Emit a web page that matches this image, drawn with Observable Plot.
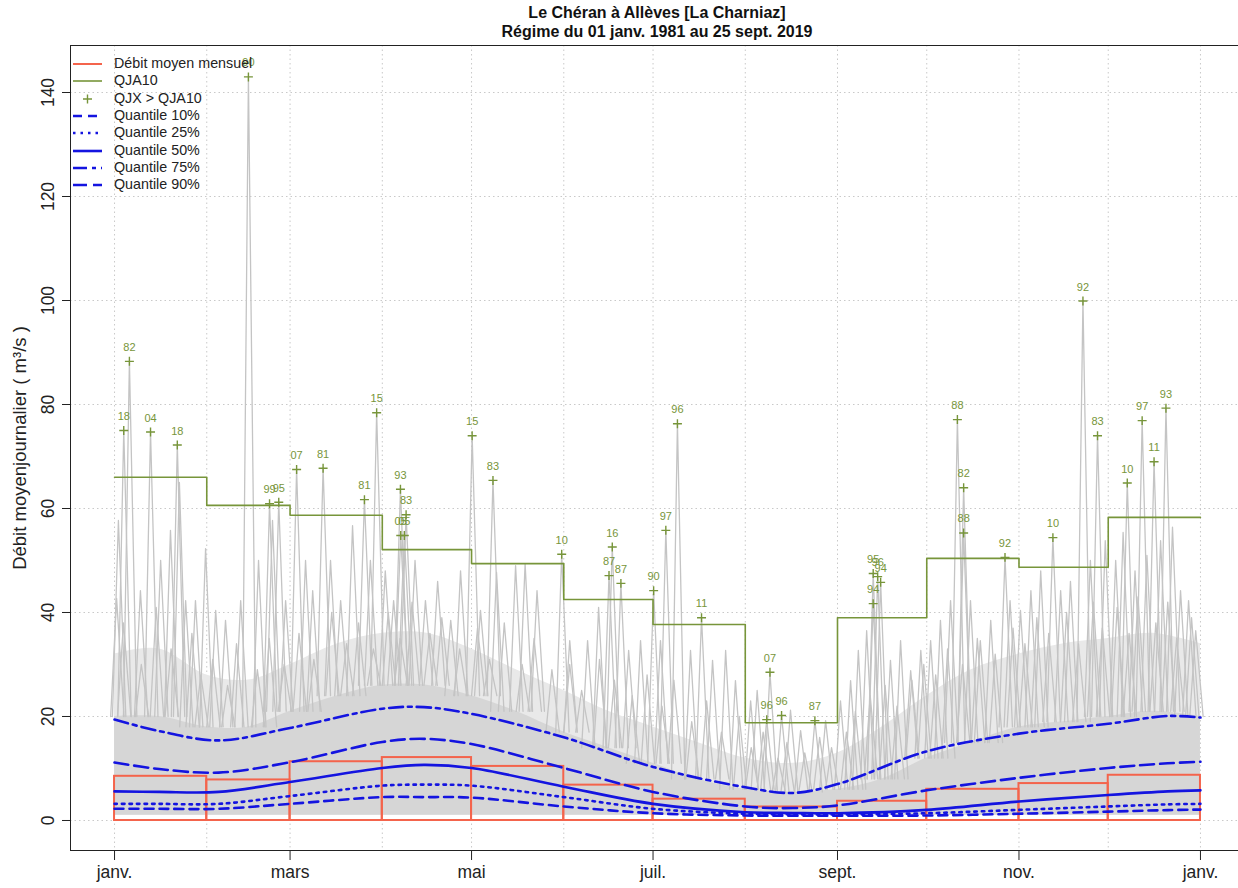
<!DOCTYPE html>
<html>
<head>
<meta charset="utf-8">
<script src="https://cdn.jsdelivr.net/npm/d3@7"></script>
<script src="https://cdn.jsdelivr.net/npm/@observablehq/plot@0.6"></script>
<style>
body{margin:0;background:#fff;font-family:"Liberation Sans",Arial,sans-serif;}
#wrap{position:relative;width:1238px;height:888px;overflow:hidden;}
#title{position:absolute;top:3px;left:70px;width:1174px;text-align:center;font-weight:bold;font-size:16px;line-height:19px;color:#111;}
#legend{position:absolute;left:0;top:0;font-size:14.3px;color:#222;}
.lrow{position:absolute;left:72px;height:18px;white-space:nowrap;}
.lrow svg{position:absolute;left:0;top:0;}
.lrow span{position:absolute;left:42px;top:0px;}
</style>
</head>
<body>
<div id="wrap">
  <div id="chart"></div>
  <div id="title">Le Chéran à Allèves [La Charniaz]<br>Régime du 01 janv. 1981 au 25 sept. 2019</div>
  <div id="legend"></div>
</div>
<script>
// ---------- data ----------
const monthStarts = [0,31,59,90,120,151,181,212,243,273,304,334,365];
const monthlyMean = [8.5,7.8,11.3,12.1,10.4,6.8,4.1,2.6,3.7,6.0,7.1,8.7];
const qja10 = [66.0,60.6,58.7,52.1,49.4,42.5,37.7,18.8,39.0,50.4,48.7,58.3];

const xTickDays = [0,59,120,181,243,304,365];
const xTickLabels = ["janv.","mars","mai","juil.","sept.","nov.","janv."];
const yTicks = [0,20,40,60,80,100,120,140];

const qDays = [0,15,35,59,90,104,120,151,181,212,228,243,273,304,334,354,365];
const q10 = [2.25,2.25,2.25,3.2,4.5,4.5,4.4,2.7,1.4,0.96,0.93,0.9,0.96,1.3,1.7,2.0,2.1];
const q25 = [3.2,3.2,3.2,4.7,6.7,6.9,6.7,4.5,2.25,1.3,1.2,1.15,1.4,2.05,2.7,3.1,3.2];
const q50 = [5.6,5.5,5.5,7.4,10.1,10.7,10.1,6.5,3.2,1.6,1.45,1.4,2.05,3.65,4.9,5.6,5.8];
const q75 = [11.15,9.9,9.2,11.2,15.1,15.7,14.7,10.1,5.5,2.7,2.4,2.9,5.8,8.2,10.1,11.0,11.3];
const q90 = [19.4,17.2,15.4,17.8,21.5,21.8,20.5,16.0,10.3,6.4,5.3,7.0,13.3,16.7,18.6,20.1,19.8];

// QJX > QJA10 (day of year, value, year)
const qjxDay = [3.1,5.0,12.1,21.1,45,52.1,55.2,61.2,70.1,84,88.1,96.1,98,96.2,97.4,120.2,127.2,150.3,166.2,167.3,170.2,181.2,185.3,189.2,197.3,219.2,220.3,224.2,235.4,255,256.5,257.5,255,283.3,285.4,285.4,299.3,315.4,325.5,330.4,340.4,345.4,349.4,353.4];
const qjxVal = [75,88.3,74.7,72.2,143,60.9,61.2,67.5,67.75,61.7,78.4,63.7,58.8,54.8,54.8,74.0,65.4,51.2,47.1,52.6,45.6,44.2,55.8,76.3,39.0,19.4,28.5,20.2,19.2,47.5,46.9,45.8,41.7,77.1,64.0,55.3,50.6,54.4,99.9,74.0,64.9,76.9,69.0,79.3];
const qjxYear = ["18","82","04","18","90","99","95","07","81","81","15","93","83","05","05","15","83","10","87","16","87","90","97","96","11","96","07","96","87","95","96","94","94","88","82","88","92","10","92","83","10","97","11","93"];

// daily flows of all years: dense band (lower / inner / outer limits) and visible peaks
const envDays = [0,15,31,45,59,75,90,105,120,135,151,166,181,196,212,228,243,258,273,288,304,319,334,349,365];
const envInner = [20,20,18,18,21,24,26,26,24,21,17,14,11,8,6,5.5,6,8,12,15,18,19,20,21,20];
const envOuter = [32,33,28,27,30,34,36,36,33,29,25,21,18,15,12,11,13,18,24,29,32,34,35,36,34];
const envLow = 1.0;
const spikeDay = [0.7,1.3,8.7,15.5,18.8,21.8,23.9,27.2,30.6,34,37.3,42.4,48.4,53.1,57.5,64.2,66.6,72.6,76,80,86,91,93.8,101,104.5,108.6,113,116.3,123,128.4,134.8,138,142,153,159,162.7,172.8,176.8,183.5,193.6,201,205.4,208.7,213.8,216,227.2,230.6,239,244,247.4,250,252.8,260.8,264.2,267.6,271,274.3,277.6,281,287.7,291,294.5,301,304.5,308,311.3,318,321.3,328,333,336.5,339,343,347,351.6,355.6,358.3,361,363.4];
const spikePeak = [42.7,57.7,44.2,50,55.8,65,42.3,42.3,52.3,40.4,38.5,42.3,50,57.7,42.3,50,44.2,50,42.3,56.7,50,48,42.3,50,42.3,46,38.5,48,40.4,47.7,49,49.4,44.2,34.6,34.6,41,32.7,34.6,34.6,32.7,30.8,32.7,26.9,23,25,21.2,17.3,19.2,23,26.9,32.7,36.5,30.8,34.6,28.8,32.7,34.6,38.5,42.3,42.3,34.6,38.5,42.3,40.4,44.2,48,44.2,46,50,53.8,50,55.4,48,51,53.8,56.4,44.2,42.3,36.5];
// smaller peaks inside the grey band
const smallDay = [3,9,14,19,26,29,33,38,41,48,52,57,62,67,73,78,82,87,92,96,100,106,110,116,122,126,131,137,141,147,153,157,163,168,174,179,184,188,194,199,204,210,214,218,223,226,232,237,241,246,249,254,259,263,268,272,276,280,285,290,296,302,306,310,314,320,324,329,332,337,341,344,350,354,357,362];
const smallPeak = [38,30,41,33,36,28,31,26,34,29,35,30,36,31,40,34,38,33,40,35,42,36,39,33,37,31,38,30,35,29,30,25,31,27,24,28,22,27,19,23,17,20,14,17,12,15,13,16,14,17,21,24,26,22,27,30,28,33,30,35,32,37,34,39,36,40,34,42,37,41,36,43,38,42,35,39];

// ---------- build tables ----------
const red = "#f4644c", green = "#77953a", blue = "#1414e0";
const rects = monthlyMean.map((v,i)=>({x1: monthStarts[i], x2: monthStarts[i+1], v}));
const steps = qja10.map((v,i)=>({d: monthStarts[i], v})).concat([{d: monthStarts[12], v: qja10[11]}]);
const env = envDays.map((d,i)=>({d, lo: envLow, inner: envInner[i], outer: envOuter[i]}));
const qjx = qjxDay.map((d,i)=>({d, v: qjxVal[i], yr: qjxYear[i]}));
function nearestInner(d){let b=0;envDays.forEach((e,i)=>{if(Math.abs(e-d)<Math.abs(envDays[b]-d))b=i;});return envInner[b];}
const peaks = spikeDay.map((d,i)=>({d, v: spikePeak[i]}))
  .concat(smallDay.map((d,i)=>({d, v: smallPeak[i]})))
  .concat(qjx.map(p=>({d:p.d, v:p.v})));
const spikeLines = [];
peaks.forEach((p,k)=>{const b=nearestInner(p.d);spikeLines.push({k,d:p.d-2,v:b},{k,d:p.d,v:p.v},{k,d:p.d+2.5,v:b});});
const quantiles = [
  {name:"q10", vals:q10, dash:"9,6"},
  {name:"q25", vals:q25, dash:"2.5,5"},
  {name:"q50", vals:q50, dash:null},
  {name:"q75", vals:q75, dash:"14,6"},
  {name:"q90", vals:q90, dash:"14,5,4,5"}
];
const tickLabel = new Map(xTickDays.map((d,i)=>[d, xTickLabels[i]]));

const marks = [
  Plot.ruleX(monthStarts, {stroke:"#c9c9c9", strokeDasharray:"1.5,3"}),
  Plot.ruleY(yTicks, {stroke:"#c9c9c9", strokeDasharray:"1.5,3"}),
  Plot.areaY(env, {x:"d", y1:"lo", y2:"outer", fill:"#e9e9e9", curve:"catmull-rom"}),
  Plot.areaY(env, {x:"d", y1:"lo", y2:"inner", fill:"#d6d6d6", curve:"catmull-rom"}),
  Plot.line(spikeLines, {x:"d", y:"v", z:"k", stroke:"#c4c4c4", strokeWidth:1.3}),
  Plot.rect(rects, {x1:"x1", x2:"x2", y1:0, y2:"v", fill:"none", stroke:red, strokeWidth:2})
];
quantiles.forEach(q=>{
  marks.push(Plot.line(qDays.map((d,i)=>({d, v:q.vals[i]})), {x:"d", y:"v", stroke:blue, strokeWidth:2.6, strokeDasharray:q.dash, curve:"catmull-rom"}));
});
marks.push(
  Plot.line(steps, {x:"d", y:"v", stroke:green, strokeWidth:1.6, curve:"step-after"}),
  Plot.dot(qjx, {x:"d", y:"v", symbol:"plus", r:3, stroke:green, strokeWidth:1.4}),
  Plot.text(qjx, {x:"d", y:"v", text:"yr", dy:-14, fill:green, fontSize:11}),
  Plot.frame({stroke:"#222", strokeWidth:1}),
  Plot.axisX(xTickDays, {tickFormat: d => tickLabel.get(d), tickSize:10, tickPadding:5, fontSize:17.5, label:null, stroke:"#222", color:"#222"}),
  Plot.axisY(yTicks, {tickFormat: () => "", tickSize:8, label:null, stroke:"#222"}),
  Plot.text(yTicks, {y: d=>d, text: d=>String(d), frameAnchor:"left", textAnchor:"middle", dx:-22, rotate:-90, fontSize:17.5, fill:"#222"}),
  Plot.text(["Débit moyenjournalier ( m³/s )"], {frameAnchor:"left", textAnchor:"middle", dx:-50, rotate:-90, fontSize:18.5, fill:"#222"})
);

const chart = Plot.plot({
  width: 1238, height: 888,
  marginLeft: 70, marginRight: -6, marginTop: 45, marginBottom: 38,
  x: {domain: [-14.8, 379.8]},
  y: {domain: [-5.77, 149.04]},
  style: {fontFamily: '"Liberation Sans", Arial, sans-serif', background: "white"},
  marks
});
document.getElementById("chart").appendChild(chart);

// ---------- legend ----------
const legendItems = [
  {label:"Débit moyen mensuel", kind:"line", color:red, w:2, dash:null},
  {label:"QJA10", kind:"line", color:green, w:1.6, dash:null},
  {label:"QJX > QJA10", kind:"plus", color:green},
  {label:"Quantile 10%", kind:"line", color:blue, w:2.6, dash:"9,6"},
  {label:"Quantile 25%", kind:"line", color:blue, w:2.6, dash:"2.5,5"},
  {label:"Quantile 50%", kind:"line", color:blue, w:2.6, dash:null},
  {label:"Quantile 75%", kind:"line", color:blue, w:2.6, dash:"14,5,4,5"},
  {label:"Quantile 90%", kind:"line", color:blue, w:2.6, dash:"14,6"}
];
const leg = document.getElementById("legend");
legendItems.forEach((it,i)=>{
  const row = document.createElement("div");
  row.className = "lrow";
  row.style.top = (55 + i*17.3) + "px";
  let sample;
  if (it.kind === "line") {
    sample = `<line x1="1" y1="9" x2="30" y2="9" stroke="${it.color}" stroke-width="${it.w}" ${it.dash ? `stroke-dasharray="${it.dash}"` : ""}/>`;
  } else {
    sample = `<path d="M11,9h9M15.5,4.5v9" stroke="${it.color}" stroke-width="1.4" fill="none"/>`;
  }
  row.innerHTML = `<svg width="32" height="18">${sample}</svg><span>${it.label}</span>`;
  leg.appendChild(row);
});
</script>
</body>
</html>
